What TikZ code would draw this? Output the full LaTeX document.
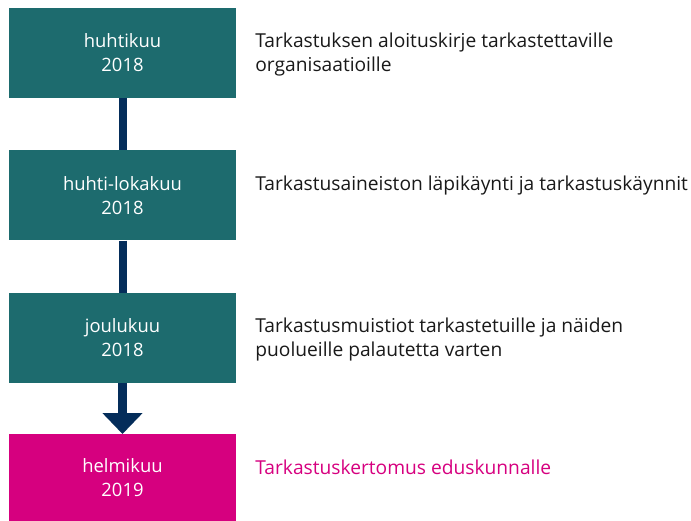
\documentclass[tikz,border=0pt]{standalone}
\usepackage{fontspec}
\setmainfont[Ligatures=NoCommon]{Open Sans}
\usetikzlibrary{positioning,arrows.meta}

\definecolor{vtvteal}{RGB}{29,107,110}
\definecolor{vtvnavy}{RGB}{4,45,90}
\definecolor{vtvmagenta}{RGB}{214,0,127}

\tikzset{
  vaihe/.style={fill=vtvteal, text=white, minimum width=227pt, minimum height=90pt,
    align=center, inner sep=0pt, font=\fontsize{18.4}{24}\selectfont},
  kuvaus/.style={anchor=base west, align=left, inner sep=0pt, text=black!90,
    font=\fontsize{19.2}{24}\selectfont},
  yhteys/.style={draw=vtvnavy, line width=8pt}
}

\begin{document}
\begin{tikzpicture}[x=1pt,y=-1pt]
  \useasboundingbox (0,0) rectangle (691,520);
  \node[vaihe] (vaihe1) at (122.5,53) {huhtikuu\\2018};
  \node[vaihe, below=52pt of vaihe1] (vaihe2) {huhti-lokakuu\\2018};
  \node[vaihe, below=52pt of vaihe2] (vaihe3) {joulukuu\\2018};
  \node[vaihe, fill=vtvmagenta, minimum height=87pt, below=51pt of vaihe3] (vaihe4) {helmikuu\\2019};

  % base = last line, so two-line texts sit one line lower
  \node[kuvaus] (kuvaus1) at ([xshift=19pt,yshift=-64pt]vaihe1.north east)
    {Tarkastuksen aloituskirje tarkastettaville\\organisaatioille};
  \node[kuvaus] (kuvaus2) at ([xshift=19pt,yshift=-40pt]vaihe2.north east)
    {Tarkastusaineiston läpikäynti ja tarkastuskäynnit};
  \node[kuvaus] (kuvaus3) at ([xshift=19pt,yshift=-64pt]vaihe3.north east)
    {Tarkastusmuistiot tarkastetuille ja näiden\\puolueille palautetta varten};
  \node[kuvaus, text=vtvmagenta] (kuvaus4) at ([xshift=19pt,yshift=-40pt]vaihe4.north east)
    {Tarkastuskertomus eduskunnalle};

  \draw[yhteys] (vaihe1) -- (vaihe2);
  \draw[yhteys] (vaihe2) -- (vaihe3);
  \draw[yhteys, line width=9pt, -{Triangle[width=39pt,length=21pt]}] (vaihe3) -- (vaihe4);
\end{tikzpicture}
\end{document}
